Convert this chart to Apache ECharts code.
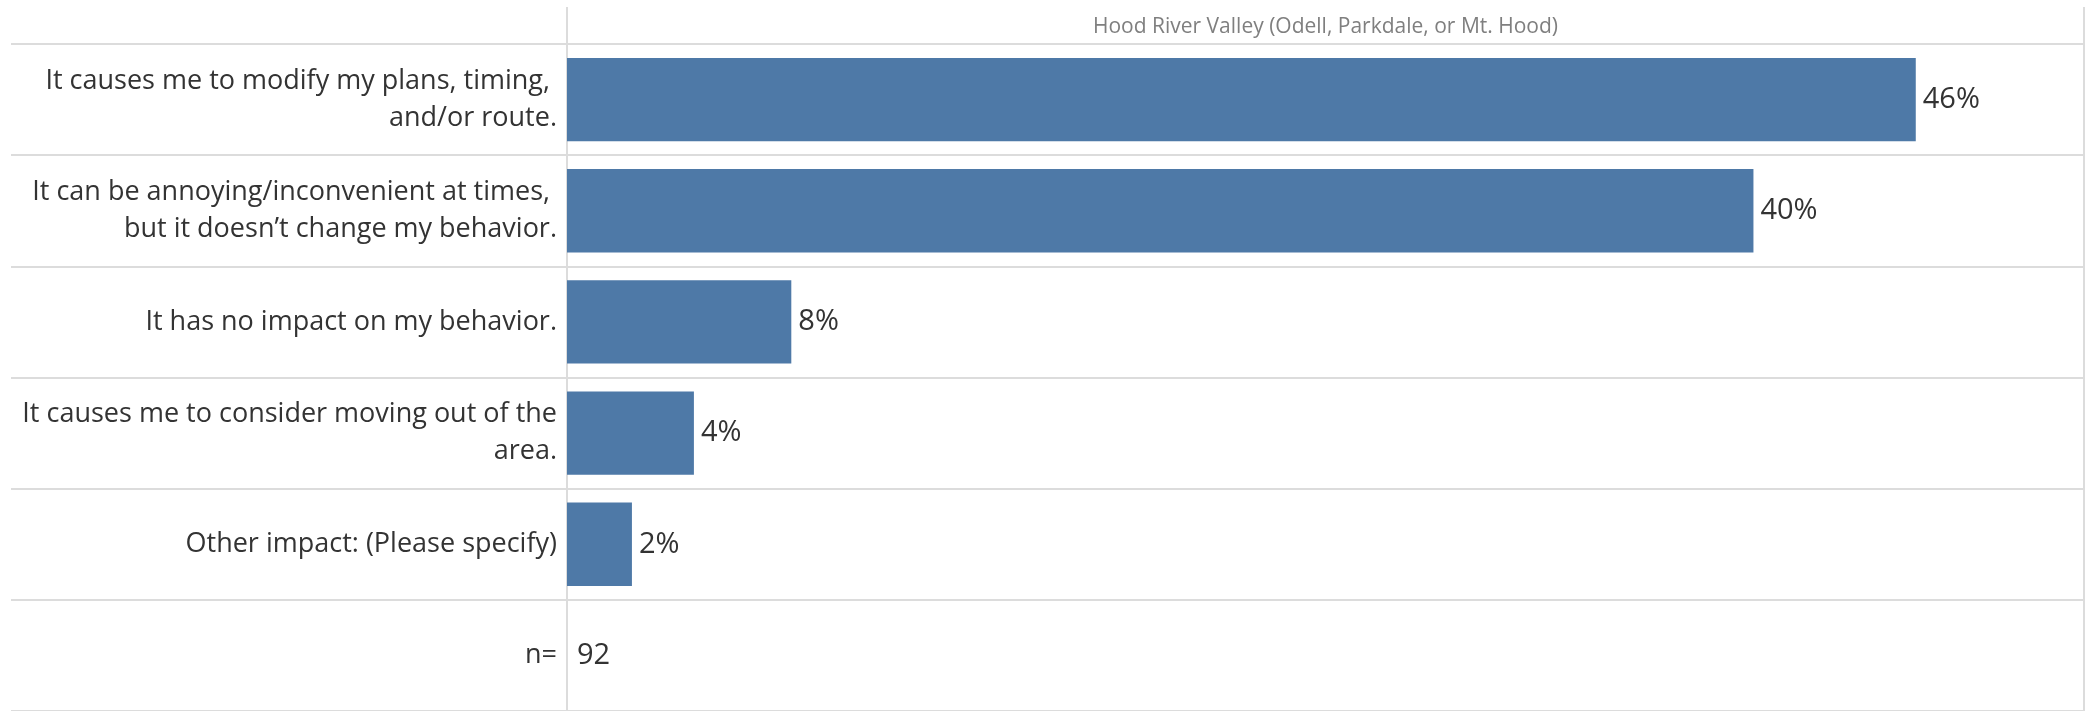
<!DOCTYPE html>
<html>
<head>
<meta charset="utf-8">
<script src="https://cdn.jsdelivr.net/npm/echarts@6/dist/echarts.min.js"></script>
<style>
  html, body { margin: 0; padding: 0; background: #fff; }
  #chart { width: 2093px; height: 711px; }
</style>
</head>
<body>
<div id="chart"></div>
<script>
// data (share of respondents, %)
const categories = [
  'It causes me to modify my plans, timing, and/or route.',
  'It can be annoying/inconvenient at times, but it doesn\u2019t change my behavior.',
  'It has no impact on my behavior.',
  'It causes me to consider moving out of the area.',
  'Other impact: (Please specify)'
]
const percents = [45.7, 40.2, 7.6, 4.3, 2.2]
const sampleLabel = 'n='
const sampleSize = 92
const columnTitle = 'Hood River Valley (Odell, Parkdale, or Mt. Hood)'

// layout
const FONT = '"Open Sans", "Noto Sans", sans-serif'
const TEXT = '#333333'
const RULE = '#dcdcdc'
const divX = 567
const rightX = 2084
const topY = 44
const rowH = 111.8
const rows = categories.concat([sampleLabel])
const gridBottom = 711 - (topY + rowH * rows.length)

const chart = echarts.init(document.getElementById('chart'), null, { renderer: 'canvas' })

const option = {
  animation: false,
  textStyle: { fontFamily: FONT },
  grid: [
    { left: divX, right: 2093 - rightX, top: topY, bottom: gridBottom },
    { left: 11, width: divX - 11, top: topY, bottom: gridBottom }
  ],
  xAxis: [
    {
      gridIndex: 0,
      type: 'value',
      position: 'top',
      min: 0,
      max: 51.4,
      name: columnTitle,
      nameLocation: 'middle',
      nameGap: 6,
      nameTextStyle: { color: '#7f7f7f', fontSize: 21, fontFamily: FONT },
      axisLine: { show: false },
      axisTick: { show: false },
      axisLabel: { show: false },
      splitLine: { show: false }
    },
    {
      gridIndex: 1,
      type: 'value',
      show: false
    }
  ],
  yAxis: [
    {
      gridIndex: 0,
      type: 'category',
      inverse: true,
      data: rows,
      axisLine: { show: false },
      axisTick: { show: false },
      axisLabel: {
        margin: 10,
        color: TEXT,
        fontSize: 27,
        fontFamily: FONT,
        lineHeight: 37,
        align: 'right',
        width: 540,
        overflow: 'break'
      },
      splitLine: { show: true, interval: 0, lineStyle: { color: RULE, width: 2 } }
    },
    {
      gridIndex: 1,
      type: 'category',
      inverse: true,
      data: rows,
      axisLine: { show: false },
      axisTick: { show: false },
      axisLabel: { show: false },
      splitLine: { show: true, interval: 0, lineStyle: { color: RULE, width: 2 } }
    }
  ],
  series: [
    {
      type: 'bar',
      xAxisIndex: 0,
      yAxisIndex: 0,
      data: percents.concat(['-']),
      barWidth: '75%',
      itemStyle: { color: '#4e79a7' },
      label: {
        show: true,
        position: 'right',
        distance: 7,
        color: TEXT,
        fontSize: 29,
        fontFamily: FONT,
        formatter: p => Math.round(p.value) + '%'
      }
    },
    {
      // sample size shown in the n= row
      type: 'scatter',
      xAxisIndex: 0,
      yAxisIndex: 0,
      symbolSize: 0,
      itemStyle: { opacity: 1 },
      data: [[0, sampleLabel, sampleSize]],
      label: {
        show: true,
        position: 'right',
        distance: 10,
        color: TEXT,
        opacity: 1,
        fontSize: 29,
        fontFamily: FONT,
        formatter: p => String(p.value[2])
      }
    }
  ],
  graphic: [
    { type: 'line', silent: true, shape: { x1: divX, y1: 7, x2: divX, y2: 711 }, style: { stroke: RULE, lineWidth: 2 } },
    { type: 'line', silent: true, shape: { x1: rightX, y1: 7, x2: rightX, y2: 711 }, style: { stroke: RULE, lineWidth: 2 } }
  ]
}

chart.setOption(option)
</script>
</body>
</html>
